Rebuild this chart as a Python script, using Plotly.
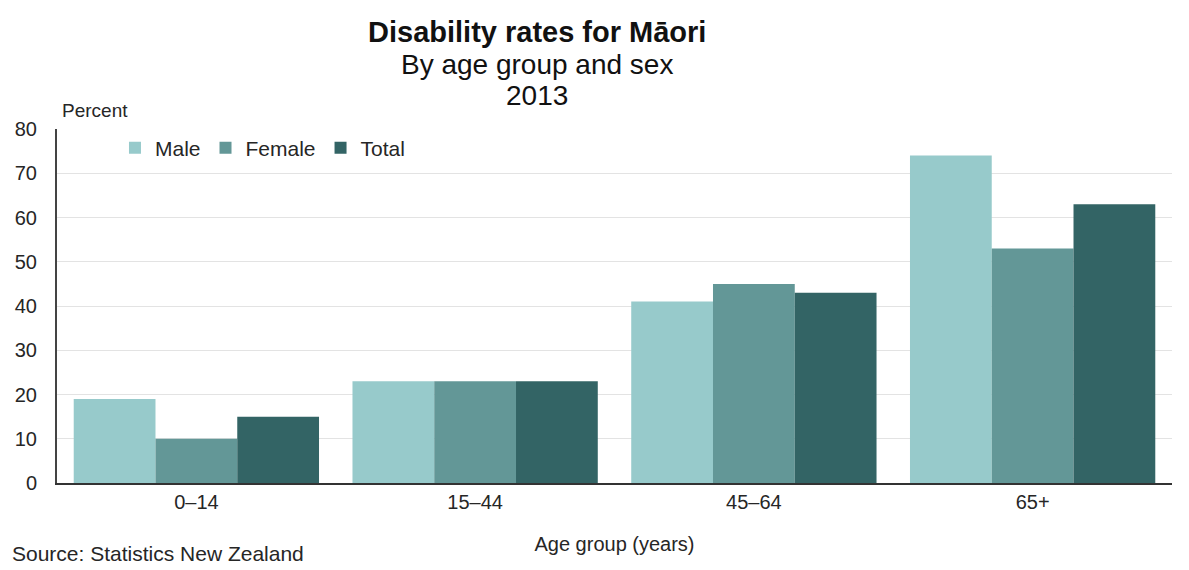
import plotly.graph_objects as go

categories = ["0–14", "15–44", "45–64", "65+"]
male = [19, 23, 41, 74]
female = [10, 23, 45, 53]
total = [15, 23, 43, 63]
y_ticks = [0, 10, 20, 30, 40, 50, 60, 70, 80]

FONT = "Liberation Sans, Arial, sans-serif"
TXT = "#262626"
fig = go.Figure()
for name, vals, col in [("Male", male, "#97cacb"), ("Female", female, "#639797"), ("Total", total, "#336465")]:
    fig.add_trace(go.Bar(name=name, x=categories, y=vals, marker=dict(color=col, line=dict(width=0))))

fig.update_layout(
    width=1181, height=562,
    margin=dict(l=49, r=17, t=121, b=87, autoexpand=False),
    paper_bgcolor="white", plot_bgcolor="white",
    barmode="group", bargap=0.12, bargroupgap=0,
    font=dict(family=FONT, size=20, color=TXT),
    showlegend=True,
    legend=dict(orientation="h", x=0.052, y=0.946, xanchor="left", yanchor="middle",
                font=dict(size=21, color=TXT), bgcolor="rgba(0,0,0,0)",
                itemwidth=30, traceorder="normal"),
    xaxis=dict(showline=True, linecolor="#333", linewidth=2, ticks="", showgrid=False,
               tickfont=dict(size=20), automargin=False,
               title=dict(text="Age group (years)", font=dict(size=20), standoff=25)),
    yaxis=dict(range=[0, 80], tickvals=y_ticks, showline=True, linecolor="#444", linewidth=2,
               gridcolor="#e3e3e3", gridwidth=1, ticks="", tickfont=dict(size=20),
               zeroline=False, ticklabelstandoff=14, automargin=False),
    annotations=[
        dict(text="<b>Disability rates for Māori</b>", xref="paper", yref="paper", x=0.4305, y=1.0,
             yshift=97, showarrow=False, font=dict(size=29, color="#111"), xanchor="center", yanchor="middle"),
        dict(text="By age group and sex", xref="paper", yref="paper", x=0.4305, y=1.0,
             yshift=65, showarrow=False, font=dict(size=28, color="#111"), xanchor="center", yanchor="middle"),
        dict(text="2013", xref="paper", yref="paper", x=0.4305, y=1.0,
             yshift=34, showarrow=False, font=dict(size=28, color="#111"), xanchor="center", yanchor="middle"),
        dict(text="Percent", xref="paper", yref="paper", x=0, y=1.0, xshift=3, yshift=19,
             showarrow=False, font=dict(size=19, color=TXT), xanchor="left", yanchor="middle"),
        dict(text="Source: Statistics New Zealand", xref="paper", yref="paper", x=0, y=0,
             xshift=-47, yshift=-70, showarrow=False, font=dict(size=21, color=TXT),
             xanchor="left", yanchor="middle"),
    ],
)
fig.write_html("out.html")
